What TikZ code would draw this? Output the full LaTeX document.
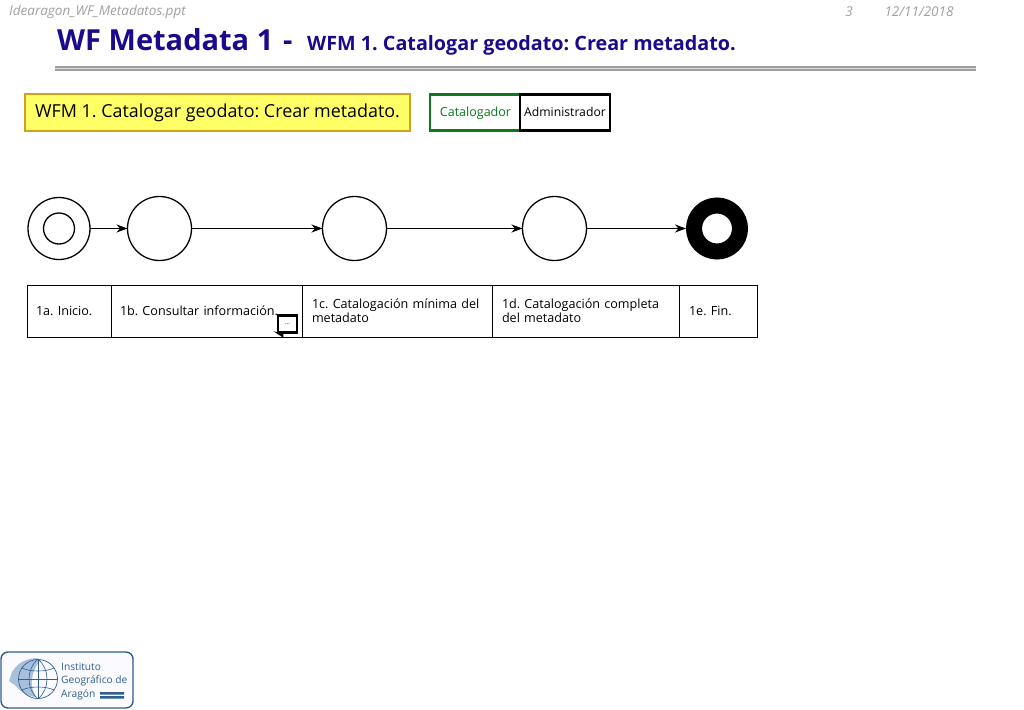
\documentclass[tikz,border=0pt]{standalone}
\usepackage{fontspec}
\setmainfont{Open Sans}
\frenchspacing
\usetikzlibrary{positioning}
\usetikzlibrary{arrows.meta}
\definecolor{titleblue}{HTML}{1A0A8C}
\definecolor{headgray}{HTML}{A0A0A0}
\definecolor{logoblue}{HTML}{2F5F8F}
\definecolor{logofill}{HTML}{A9C0DC}
\definecolor{wfmfill}{HTML}{FFFF66}
\definecolor{wfmedge}{HTML}{D2A122}
\definecolor{catgreen}{HTML}{0B7A1E}
\tikzset{
  state/.style={circle, draw, line width=1.3pt, fill=white, minimum size=64pt, inner sep=0pt, outer sep=0pt},
  step cell/.style={draw, line width=.9pt, minimum height=52pt, inner sep=0pt, outer sep=0pt, font=\fontsize{12.6}{14}\selectfont, align=left},
  role/.style={draw, line width=2.4pt, fill=white, minimum height=36pt, inner sep=0pt, outer sep=0pt, text height=10pt, text depth=3pt},
  head/.style={text=headgray, font=\fontsize{13.5}{14}\selectfont\itshape, inner sep=0pt},
  flow/.style={-{Stealth[length=11pt, width=8pt, inset=3.5pt]}, line width=1.2pt},
}
\begin{document}
\begin{tikzpicture}[x=1pt, y=-1pt]
  \useasboundingbox (0,0) rectangle (1024,709);
  % header
  \node[head, anchor=west] (file) at (9,11.5) {Idearagon\_WF\_Metadatos.ppt};
  \node[head] (page) at (849,11.5) {3};
  \node[head] (date) at (919,11.5) {12/11/2018};
  \node[anchor=base west, inner sep=0pt, text=titleblue, font=\fontsize{29}{34}\selectfont\bfseries] (title) at (57,50)
    {WF Metadata 1};
  \node[anchor=base west, inner sep=0pt, text=titleblue, font=\fontsize{29}{34}\selectfont\bfseries] (dash) at (283,50) {-};
  \node[anchor=base west, inner sep=0pt, text=titleblue, font=\fontsize{19.75}{22}\selectfont\bfseries] (subtitle) at (307,50)
    {WFM 1. Catalogar geodato: Crear metadato.};
  \coordinate (rulel) at (55,68.5);
  \coordinate (ruler) at (976,68.5);
  \draw[headgray, line width=4.5pt] (rulel) -- (ruler);
  \draw[white!85!black, line width=.8pt] (rulel) -- (ruler);

  % name and roles
  \node[draw=wfmedge, line width=2.2pt, fill=wfmfill, minimum width=385pt, minimum height=37pt, inner sep=0pt, font=\fontsize{17.9}{20}\selectfont, text height=14pt, text depth=4pt] (wfm) at (217.5,112.5) {WFM 1. Catalogar geodato: Crear metadato.};
  \node[role, draw=catgreen, text=catgreen, minimum width=91pt, font=\fontsize{12.5}{14}\selectfont] (cat) at (475.5,112.5) {Catalogador};
  \node[role, minimum width=90pt, right=-1pt of cat, font=\fontsize{12.2}{14}\selectfont] (adm) {Administrador};

  % states
  \node[state, minimum size=62pt] (a) at (59,228.5) {};
  \node[circle, draw, line width=1.3pt, minimum size=31pt, inner sep=0pt] (ai) at (a) {};
  \node[state, right=37.5pt of a] (b) {};
  \node[state, right=131pt of b] (c) {};
  \node[state, right=136pt of c] (d) {};
  \node[state, right=99.5pt of d, minimum size=46pt, line width=16pt, outer sep=8pt] (e) {};

  \draw[flow] (a) -- (b);
  \draw[flow] (b) -- (c);
  \draw[flow] (c) -- (d);
  \draw[flow] (d) -- (e);

  % steps
  \node[step cell, minimum width=84pt, anchor=west, text width=66pt] (s1) at (27,311) {1a. Inicio.};
  \node[step cell, minimum width=191pt, text width=173pt, right=0pt of s1] (s2) {1b. Consultar información.};
  \node[step cell, minimum width=190pt, text width=170pt, right=0pt of s2] (s3) {1c. Catalogación mínima del\\metadato};
  \node[step cell, minimum width=187pt, text width=167pt, right=0pt of s3] (s4) {1d. Catalogación completa\\del metadato};
  \node[step cell, minimum width=78pt, text width=58pt, right=0pt of s4] (s5) {1e. Fin.};

  % note on 1b
  \node[draw, line width=2.4pt, fill=white, minimum width=19pt, minimum height=17pt, inner sep=0pt, font=\fontsize{6}{6}\selectfont] (note) at (287.5,324) {...};
  \fill (note.south west) ++(-3.5,-2.5) -- ++(10,2.5) -- ++(0,4) -- cycle;

  % logo
  \draw[logoblue, line width=1.4pt, rounded corners=7pt, fill=blue!2!white] (1,652) rectangle (133,708);
  \fill[logofill] (12,672) .. controls (17,664) and (24,659) .. (36,658) -- (41,660) .. controls (31,670) and (29,686) .. (36,697) .. controls (27,696) and (20,692) .. (16,686) -- (9,681) -- cycle;
  \node[circle, draw=logoblue, line width=.7pt, minimum size=39pt, inner sep=0pt] (globe) at (38,679) {};
  \draw[logoblue, line width=.6pt] (globe.north) .. controls (26,669) and (26,689) .. (globe.south);
  \draw[logoblue, line width=.6pt] (globe.north) .. controls (50,669) and (50,689) .. (globe.south);
  \draw[logoblue, line width=.6pt] (globe.north) -- (globe.south) (globe.west) -- (globe.east);
  \draw[logoblue, line width=.6pt] (22,668) .. controls (30,672) and (46,672) .. (54,668);
  \draw[logoblue, line width=.6pt] (22,690) .. controls (30,686) and (46,686) .. (54,690);
  \node[anchor=west, inner sep=0pt, text=logoblue, font=\fontsize{10.2}{13.5}\selectfont, align=left] (logotext) at (61,681) {Instituto\\Geográfico de\\Aragón};
  \fill[logoblue] (100,692) rectangle (124,694.5) (100,696) rectangle (124,698.5);
\end{tikzpicture}
\end{document}
